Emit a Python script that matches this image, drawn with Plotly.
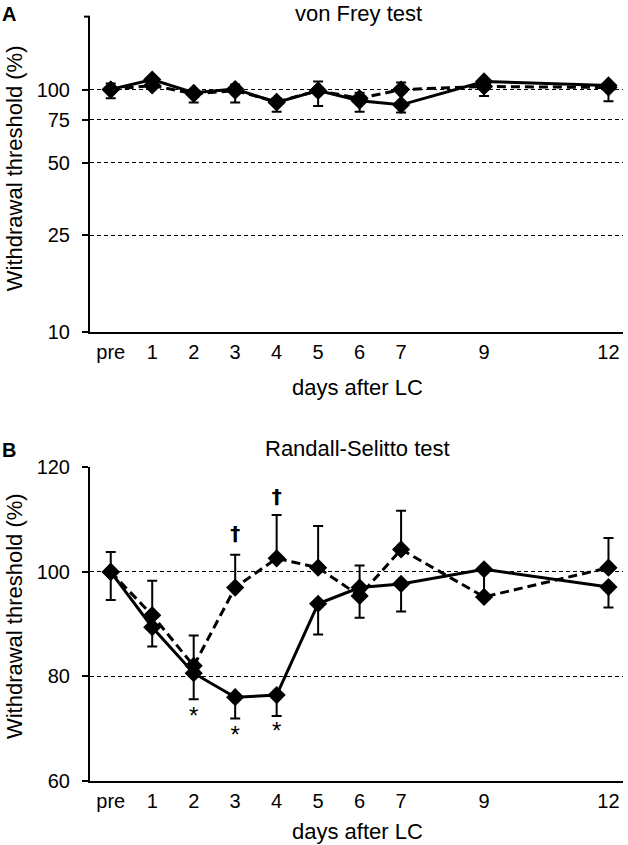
import plotly.graph_objects as go

W, H = 628, 845

# ---------- data ----------
days = [0, 1, 2, 3, 4, 5, 6, 7, 9, 12]
day_labels = ["pre", "1", "2", "3", "4", "5", "6", "7", "9", "12"]

# Panel A: von Frey test (log axis)
vf_solid = [100, 110, 97, 100.5, 88.5, 99, 90, 86.5, 108, 104]
vf_solid_err = [8, 8, 8.5, 12, 7.5, 13.5, 9, 6, 14, 14.5]
vf_dash = [100, 104, 96, 99, 89, 99, 92, 100, 103, 102]
vf_dash_err = [6, 3, 3, 6, 3, 9, 5, 7, 2, 2]

# Panel B: Randall-Selitto test
rs_solid = [100, 89.4, 80.6, 76.0, 76.4, 93.9, 97.0, 97.7, 100.5, 97.1]
rs_solid_err = [5.4, 3.7, 5.0, 4.1, 4.0, 5.9, 5.8, 5.3, 5.3, 3.9]
rs_dash = [100, 91.7, 82.0, 97.0, 102.6, 100.8, 95.4, 104.3, 95.2, 100.8]
rs_dash_err = [3.8, 6.6, 5.8, 6.3, 8.3, 8.0, 5.8, 7.4, 0.0, 5.7]

star_days = [2, 3, 4]
star_y = [72.0, 68.4, 69.2]
dagger_days = [3, 4]
dagger_y = [107.0, 114.2]

a_ticks = [10, 25, 50, 75, 100]
b_ticks = [60, 80, 100, 120]

# ---------- helpers ----------
def px(x):
    return x / W

def py(y):
    # target pixel row -> paper fraction (compensates observed vertical render mapping)
    yy = (y - 11.4) / 0.97
    return 1 - yy / H

FONT = "Liberation Sans, Arial, sans-serif"

fig = go.Figure()

def add_series(xa, ya, yvals, errs, dashed, up):
    fig.add_trace(go.Scatter(
        x=days, y=yvals, xaxis=xa, yaxis=ya, mode="lines+markers",
        line=dict(color="black", width=3, dash="9px,5px" if dashed else "solid"),
        marker=dict(symbol="diamond", size=14, color="black"),
        error_y=dict(type="data", symmetric=False,
                     array=errs if up else [0] * len(errs),
                     arrayminus=[0] * len(errs) if up else errs,
                     color="black", thickness=2, width=5),
        showlegend=False, hoverinfo="skip",
    ))

add_series("x", "y", vf_dash, vf_dash_err, True, True)
add_series("x", "y", vf_solid, vf_solid_err, False, False)
add_series("x2", "y2", rs_dash, rs_dash_err, True, True)
add_series("x2", "y2", rs_solid, rs_solid_err, False, False)

fig.add_trace(go.Scatter(x=star_days, y=star_y, xaxis="x2", yaxis="y2", mode="text",
                         text=["*"] * len(star_days),
                         textfont=dict(size=24, color="black", family=FONT),
                         showlegend=False, hoverinfo="skip"))
fig.add_trace(go.Scatter(x=dagger_days, y=dagger_y, xaxis="x2", yaxis="y2", mode="text",
                         text=["<b>†</b>"] * len(dagger_days),
                         textfont=dict(size=20, color="#000000", family="DejaVu Sans"),
                         showlegend=False, hoverinfo="skip"))

xdom = [px(90), px(623)]
common_x = dict(range=[-0.5, 12.35], tickvals=days, ticktext=day_labels,
                showline=True, linecolor="black", linewidth=2, ticks="",
                showgrid=False, zeroline=False,
                tickfont=dict(size=20, color="black", family=FONT),
                ticklabelstandoff=1, domain=xdom)
common_y = dict(showline=True, linecolor="black", linewidth=2, ticks="outside",
                ticklen=6, tickwidth=2, tickcolor="black",
                showgrid=True, gridcolor="black", gridwidth=1, griddash="4px,3px",
                zeroline=False, tickfont=dict(size=20, color="black", family=FONT),
                ticklabelstandoff=8)

fig.update_layout(
    width=W, height=H, margin=dict(l=0, r=0, t=0, b=0),
    paper_bgcolor="white", plot_bgcolor="white",
    font=dict(family=FONT, color="black"),
    xaxis=dict(**common_x, anchor="y"),
    yaxis=dict(**common_y, type="log", range=[1, 2.30103], tickvals=a_ticks,
               ticktext=[str(v) for v in a_ticks], domain=[py(331), py(17)], anchor="x"),
    xaxis2=dict(**common_x, anchor="y2"),
    yaxis2=dict(**common_y, range=[60, 120], tickvals=b_ticks,
                ticktext=[str(v) for v in b_ticks], domain=[py(778), py(466)], anchor="x2"),
)

# small tick at the top of panel A's axis
fig.add_shape(type="line", xref="paper", yref="paper", x0=px(84), x1=px(90),
              y0=py(17), y1=py(17), line=dict(color="black", width=2))

ann = []
def text(x, y, s, size=22, bold=False, angle=0):
    ann.append(dict(x=px(x), y=py(y), xref="paper", yref="paper", text=(f"<b>{s}</b>" if bold else s),
                    showarrow=False, xanchor="center", yanchor="middle", textangle=angle,
                    font=dict(size=size, color="black", family=FONT)))

text(358, 14, "von Frey test")
text(357, 447, "Randall-Selitto test")
text(9, 14, "A", size=20, bold=True)
text(9, 449, "B", size=20, bold=True)
text(14, 168, "Withdrawal threshold (%)", angle=-90)
text(14, 614, "Withdrawal threshold (%)", angle=-90)
text(357, 386, "days after LC")
text(357, 829, "days after LC")
fig.update_layout(annotations=ann)

fig.write_html("out.html", config={"displayModeBar": False},
               post_script="document.body.style.margin='0';document.body.style.overflow='hidden';")
